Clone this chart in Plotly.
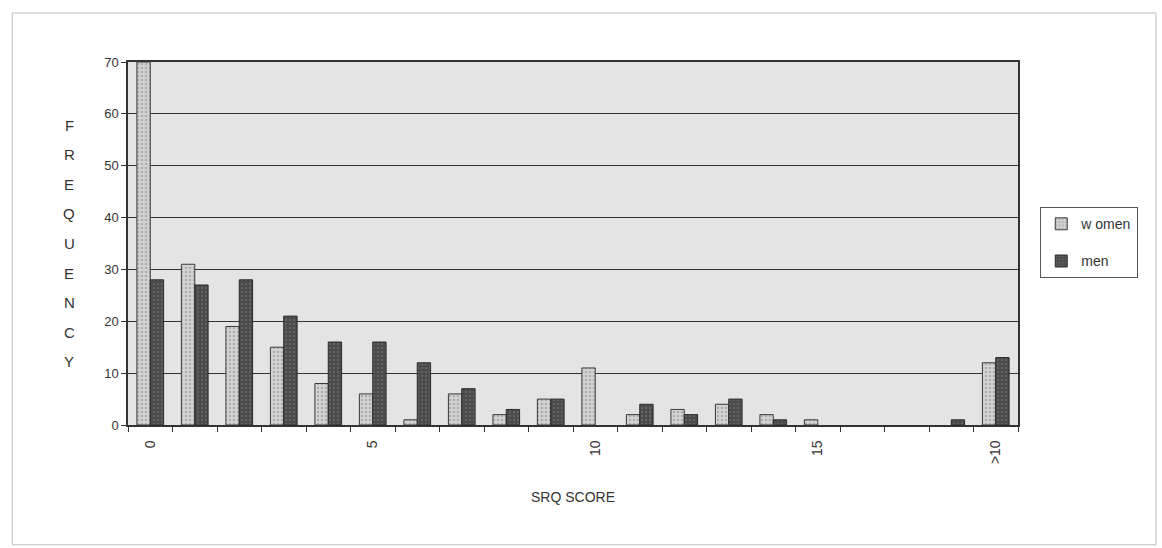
import plotly.graph_objects as go

categories = list(range(20))
tick_positions = [0, 5, 10, 15, 19]
tick_labels = ["0", "5", "10", "15", ">10"]
women = [70, 31, 19, 15, 8, 6, 1, 6, 2, 5, 11, 2, 3, 4, 2, 1, 0, 0, 0, 12]
men = [28, 27, 28, 21, 16, 16, 12, 7, 3, 5, 0, 4, 2, 5, 1, 0, 0, 0, 1, 13]
y_title = "FREQUENCY"

FONT = "Liberation Sans, Arial, sans-serif"


def edge_widths(vals):
    return [1 if v > 0 else 0 for v in vals]


fig = go.Figure()
fig.add_trace(go.Bar(
    x=categories, y=women, name="w omen", legendgroup="w",
    marker=dict(color="#d2d2d2", line=dict(color="#3a3a3a", width=edge_widths(women)),
                pattern=dict(shape=".", fgcolor="#8a8a8a", size=4, solidity=0.3)),
))
fig.add_trace(go.Bar(
    x=categories, y=men, name="men", legendgroup="m",
    marker=dict(color="#4a4a4a", line=dict(color="#2a2a2a", width=edge_widths(men)),
                pattern=dict(shape=".", fgcolor="#7a7a7a", size=4, solidity=0.3)),
))

fig.update_layout(
    width=1162, height=548,
    margin=dict(l=128, r=144, t=62, b=123),
    paper_bgcolor="#ffffff",
    plot_bgcolor="#e4e4e4",
    barmode="group", bargap=0.4, bargroupgap=0,
    font=dict(family=FONT, size=13, color="#333333"),
    showlegend=True,
    legend=dict(x=1.025, y=0.60, xanchor="left", yanchor="top",
                bordercolor="#555555", borderwidth=1, bgcolor="#ffffff",
                font=dict(size=14), tracegroupgap=16,
                itemwidth=30),
    xaxis=dict(
        range=[-0.5, 19.5],
        tickmode="array", tickvals=tick_positions, ticktext=tick_labels,
        tickangle=-90, ticks="", showgrid=False, ticklabelstandoff=8,
        showline=True, linecolor="#333333", linewidth=1.5, mirror=True,
        minor=dict(tickmode="linear", tick0=-0.5, dtick=1, ticks="outside",
                   ticklen=5, tickcolor="#333333", showgrid=False),
        tickfont=dict(size=14),
    ),
    yaxis=dict(
        range=[0, 70], tickmode="linear", tick0=0, dtick=10,
        ticks="outside", ticklen=5, tickcolor="#333333",
        showgrid=True, gridcolor="#333333", gridwidth=1,
        showline=True, linecolor="#333333", linewidth=1.5, mirror=True,
        zeroline=False, tickfont=dict(size=13),
    ),
)

n = len(y_title)
top, bottom = 0.826, 0.174
for i, ch in enumerate(y_title):
    fig.add_annotation(
        text=ch, xref="paper", yref="paper",
        x=-0.066, y=top - i * (top - bottom) / (n - 1),
        showarrow=False, font=dict(size=15, color="#333333"),
        xanchor="center", yanchor="middle",
    )

fig.add_annotation(
    text="SRQ SCORE", xref="paper", yref="paper", x=0.5, y=0, yshift=-72,
    showarrow=False, font=dict(size=14, color="#333333"),
    xanchor="center", yanchor="middle",
)

fig.add_shape(type="rect", xref="paper", yref="paper",
              x0=-0.13, y0=-0.33, x1=1.155, y1=1.135,
              line=dict(color="#bbbbbb", width=1))

fig.write_html("out.html")
